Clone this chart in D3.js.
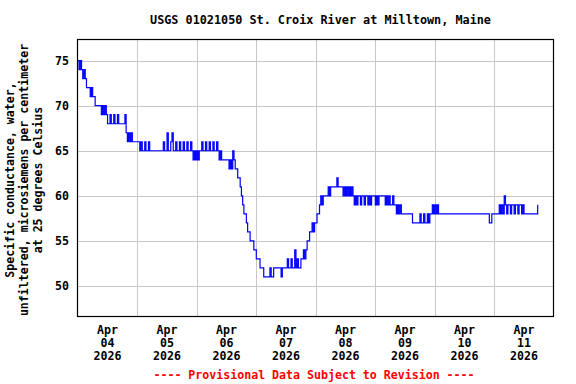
<!DOCTYPE html>
<html>
<head>
<meta charset="utf-8">
<script src="https://cdn.jsdelivr.net/npm/d3@7/dist/d3.min.js"></script>
<style>
  html, body { margin: 0; padding: 0; background: #fff; }
  svg { display: block; }
  text { font-family: "DejaVu Sans Mono", monospace; font-weight: bold; }
</style>
</head>
<body>
<svg id="chart" width="576" height="384"></svg>
<script>
// ---- data: specific conductance, 30-minute readings, one array per day ----
const title = "USGS 01021050 St. Croix River at Milltown, Maine";
const yLabelLines = ["Specific conductance, water,", "unfiltered, microsiemens per centimeter", "at 25 degrees Celsius"];
const footer = "---- Provisional Data Subject to Revision ----";
const dayStarts = ["2026-04-04", "2026-04-05", "2026-04-06", "2026-04-07", "2026-04-08", "2026-04-09", "2026-04-10", "2026-04-11"];
const dayLabels = [["Apr","04","2026"],["Apr","05","2026"],["Apr","06","2026"],["Apr","07","2026"],["Apr","08","2026"],["Apr","09","2026"],["Apr","10","2026"],["Apr","11","2026"]];
const yTicks = [50, 55, 60, 65, 70, 75];

const apr04 = [75,74,75,74,73,74,73,72, 72,72,71,72,71,71,70,70, 70,70,70,69,70,69,70,69, 68,68,69,68,68,69,68,68, 69,68,68,68,68,68,69,67, 66,67,66,67,66,66,66,66];
const apr05 = [66,66,65,66,65,65,66,65, 65,66,65,65,65,65,65,65, 65,65,65,65,65,66,65,65, 67,65,65,66,67,65,65,66, 65,65,66,65,65,66,65,65, 66,65,65,66,65,64,65,64];
const apr06 = [65,64,65,65,66,65,65,66, 65,65,66,65,65,66,65,65, 66,65,64,65,64,64,64,64, 64,64,63,64,63,65,64,63, 63,62,62,61,60,59,58,58, 57,56,56,55,55,55,54,54];
const apr07 = [53,53,53,52,52,52,51,51, 51,51,51,52,51,51,52,52, 52,52,52,52,51,52,52,52, 52,53,52,52,53,52,52,54, 52,53,52,52,53,53,54,53, 54,55,55,56,56,57,56,57];
const apr08 = [57,58,58,59,60,59,60,60, 60,60,61,60,61,61,61,61, 61,62,61,61,61,61,60,61, 60,61,60,61,60,61,60,59, 60,59,60,60,59,60,60,59, 60,60,59,60,59,60,60,60];
const apr09 = [59,60,59,60,60,60,60,60, 59,60,59,60,59,59,60,59, 59,58,59,58,59,58,58,58, 58,58,58,58,58,58,57,57, 57,57,57,57,58,57,57,58, 57,57,58,57,58,58,59,58];
const apr10 = [59,58,59,58,58,58,58,58, 58,58,58,58,58,58,58,58, 58,58,58,58,58,58,58,58, 58,58,58,58,58,58,58,58, 58,58,58,58,58,58,58,58, 58,58,58,58,57,57,58,58];
const apr11 = [58,58,58,58,59,58,59,58, 60,59,58,59,59,58,59,59, 58,59,59,58,59,59,58,59, 58,58,58,58,58,58,58,58, 58,58,58,59];
const dailyValues = [apr04, apr05, apr06, apr07, apr08, apr09, apr10, apr11];

// ---- build the series ----
const parseDay = d3.timeParse("%Y-%m-%d");
const series = [];
dailyValues.forEach((vals, i) => {
  const d0 = parseDay(dayStarts[i]);
  vals.forEach((v, k) => series.push({ t: d3.timeMinute.offset(d0, k * 30), v }));
});

// ---- layout ----
const W = 576, H = 384;
const plot = { left: 77, right: 554, top: 39, bottom: 316 };
const svg = d3.select("#chart");
svg.append("rect").attr("width", W).attr("height", H).attr("fill", "#fff");

const x = d3.scaleTime()
  .domain([parseDay("2026-04-04"), parseDay("2026-04-12")])
  .range([plot.left + 0.8, plot.right - 0.2]);
const y = d3.scaleLinear().domain([46.67, 77.4]).range([plot.bottom, plot.top]);

// gridlines
const grid = svg.append("g").attr("stroke", "#c8c8c8").attr("stroke-width", 1).attr("shape-rendering", "crispEdges");
grid.selectAll("line.h").data(yTicks).join("line")
  .attr("x1", plot.left).attr("x2", plot.right)
  .attr("y1", d => Math.round(y(d)) + 0.5).attr("y2", d => Math.round(y(d)) + 0.5);
const midnights = dayStarts.slice(1).map(parseDay);
grid.selectAll("line.v").data(midnights).join("line")
  .attr("y1", plot.top).attr("y2", plot.bottom)
  .attr("x1", d => Math.round(x(d)) + 0.5).attr("x2", d => Math.round(x(d)) + 0.5);

// clip
svg.append("clipPath").attr("id", "clip").append("rect")
  .attr("x", plot.left).attr("y", plot.top)
  .attr("width", plot.right - plot.left).attr("height", plot.bottom - plot.top);

// line
const line = d3.line().x(d => x(d.t)).y(d => y(d.v)).curve(d3.curveStepAfter);
svg.append("path").datum(series)
  .attr("clip-path", "url(#clip)")
  .attr("fill", "none").attr("stroke", "#0000ff").attr("stroke-width", 1.2)
  .attr("d", line);

// frame
svg.append("rect")
  .attr("x", plot.left + 0.5).attr("y", plot.top + 0.5)
  .attr("width", plot.right - plot.left - 1).attr("height", plot.bottom - plot.top)
  .attr("fill", "none").attr("stroke", "#000").attr("stroke-width", 1.2);

// y axis labels
const yAxis = d3.axisLeft(y).tickValues(yTicks).tickSize(0).tickPadding(8);
const ya = svg.append("g").attr("transform", `translate(${plot.left},0)`).call(yAxis);
ya.select(".domain").remove();
ya.selectAll("text").attr("font-size", "11.6px").attr("fill", "#000")
  .attr("font-family", "DejaVu Sans Mono").attr("font-weight", "bold");

// x labels (noon of each day)
const noons = dayStarts.map(d => d3.timeHour.offset(parseDay(d), 12));
const xl = svg.append("g");
noons.forEach((n, i) => {
  const t = xl.append("text").attr("x", x(n)).attr("y", 334)
    .attr("text-anchor", "middle").attr("font-size", "11.6px").attr("fill", "#000");
  dayLabels[i].forEach((s, j) => t.append("tspan").attr("x", x(n)).attr("y", 334 + j * 12.8).text(s));
});

// title
svg.append("text").attr("x", (plot.left + plot.right) / 2 + 5).attr("y", 24)
  .attr("text-anchor", "middle").attr("font-size", "11.8px").attr("fill", "#000").text(title);

// y label
const ylX = [14, 28, 41.5];
yLabelLines.forEach((s, i) => {
  svg.append("text").attr("transform", `translate(${ylX[i]},180) rotate(-90)`)
    .attr("text-anchor", "middle").attr("font-size", "11.6px").attr("fill", "#000").text(s);
});

// footer
svg.append("text").attr("x", 314).attr("y", 379)
  .attr("text-anchor", "middle").attr("font-size", "11.6px").attr("fill", "#ff0000").text(footer);
</script>
</body>
</html>
